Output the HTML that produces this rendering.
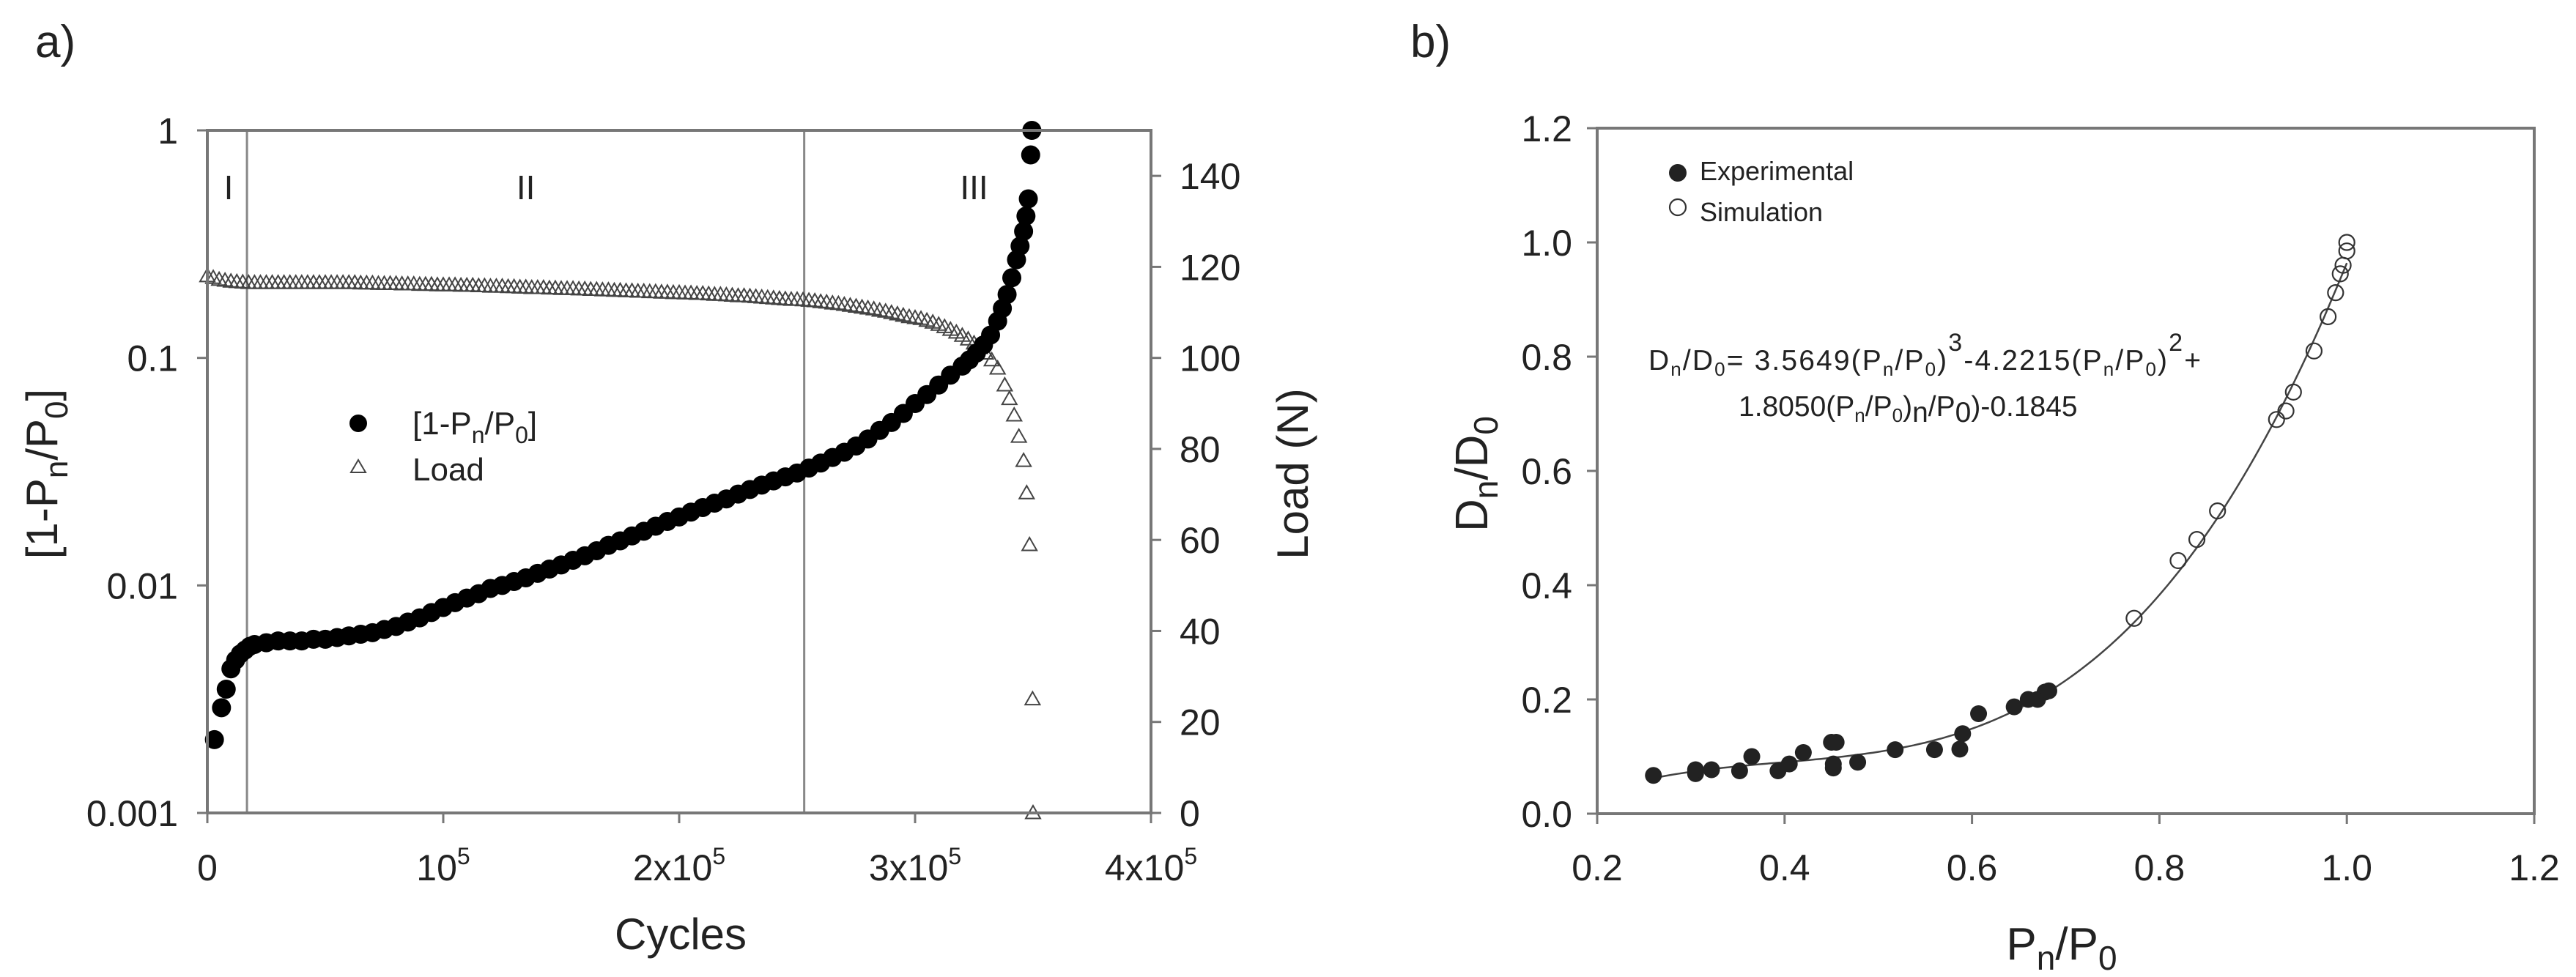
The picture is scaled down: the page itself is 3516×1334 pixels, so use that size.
<!DOCTYPE html>
<html><head><meta charset="utf-8"><style>
html,body{margin:0;padding:0;background:#fff;}
svg text{font-family:"Liberation Sans",sans-serif;fill:#222;}
</style></head><body>
<svg id="chart" width="3516" height="1329" viewBox="0 0 3516 1329" xmlns="http://www.w3.org/2000/svg">
<rect width="3516" height="1329" fill="#fff"/>
<g id="ga"></g>
<g id="gb"></g>
</svg>
<script>
// ---------- Panel a data ----------
const cyclesDamage = [3000,6000,8000,10000,12000,14000,16000,18000,20000,25000,30000,35000,40000,45000,50000,55000,60000,65000,70000,75000,80000,85000,90000,95000,100000,105000,110000,115000,120000,125000,130000,135000,140000,145000,150000,155000,160000,165000,170000,175000,180000,185000,190000,195000,200000,205000,210000,215000,220000,225000,230000,235000,240000,245000,250000,255000,260000,265000,270000,275000,280000,285000,290000,295000,300000,305000,310000,315000,320000,323000,326000,329000,332000,335000,337000,339000,341000,343000,344500,346000,347000,348000,349000,349500];
const damage = [0.0021,0.0029,0.0035,0.0043,0.0047,0.005,0.0052,0.0054,0.0055,0.0056,0.0057,0.0057,0.0057,0.0058,0.0058,0.0059,0.006,0.0061,0.0062,0.0064,0.0066,0.0069,0.0072,0.0076,0.0080,0.0084,0.0088,0.0092,0.0097,0.0100,0.0104,0.0108,0.0113,0.0118,0.0123,0.0129,0.0135,0.0142,0.0150,0.0157,0.0165,0.0173,0.0182,0.0191,0.0200,0.0210,0.0220,0.0230,0.0240,0.0252,0.0264,0.0276,0.0288,0.0300,0.0312,0.0328,0.0345,0.0365,0.0385,0.041,0.044,0.048,0.052,0.057,0.063,0.069,0.076,0.084,0.092,0.098,0.105,0.114,0.126,0.145,0.165,0.19,0.225,0.27,0.31,0.36,0.42,0.5,0.78,1.0];
const loadStep = 2500;
const loadDense = [118,117.6,117.2,117.0,116.8,116.7,116.6,116.5,
116.5,116.5,116.5,116.5,116.5,116.5,116.5,116.5,116.5,116.5,116.5,116.5,116.5,116.5,116.5,116.5,116.5,
116.5,116.4,116.4,116.4,116.3,116.3,116.3,116.3,116.2,116.2,116.2,116.1,116.1,116.1,116.0,116.0,
116.0,116.0,115.9,115.9,115.9,115.8,115.8,115.7,115.7,115.7,115.6,115.6,115.5,115.5,115.4,115.4,115.4,115.3,115.3,115.2,
115.2,115.2,115.1,115.1,115.0,115.0,114.9,114.9,114.8,114.8,114.7,114.7,114.6,114.6,114.5,114.5,114.4,114.4,114.3,114.3,
114.2,114.2,114.1,114.1,114.0,113.9,113.9,113.8,113.7,113.6,113.6,113.5,113.4,113.3,113.2,113.1,113.0,112.9,112.8,112.8,
112.7,112.6,112.5,112.3,112.2,112.0,111.9,111.7,111.5,111.3,111.1,110.9,110.7,110.4,110.2,109.9,109.6,109.3,109.0,108.8,
108.6,108.2,107.8,107.3,106.8,106.2,105.6,104.9,104.1,103.2,102.2,101.0];
const cyclesLoadTail = [332500,335000,338000,340000,342000,344000,346000,347300,348500,349800,350000];
const loadTail = [99.5,97.7,94,91,87.4,82.7,77.4,70.3,58.9,25,0];
const aXTicks = [0,100000,200000,300000,400000];
const aXTickLabels = [["0",""],["10","5"],["2x10","5"],["3x10","5"],["4x10","5"]];
const aYTicks = [0.001,0.01,0.1,1];
const aYTickLabels = ["0.001","0.01","0.1","1"];
const aY2Ticks = [0,20,40,60,80,100,120,140];
const regionLines = [16800,253000];
const regionLabels = [["I",9000],["II",135000],["III",325000]];

// ---------- Panel b data ----------
const expX = [0.26,0.305,0.305,0.322,0.352,0.365,0.393,0.405,0.42,0.45,0.455,0.452,0.452,0.478,0.518,0.56,0.587,0.59,0.607,0.645,0.66,0.67,0.678,0.682];
const expY = [0.067,0.07,0.077,0.077,0.075,0.1,0.075,0.087,0.107,0.125,0.125,0.08,0.087,0.09,0.112,0.112,0.113,0.14,0.175,0.187,0.2,0.2,0.213,0.215];
const simX = [0.773,0.82,0.84,0.862,0.925,0.935,0.943,0.965,0.98,0.988,0.993,0.996,1.0,1.0];
const simY = [0.342,0.443,0.48,0.53,0.69,0.705,0.738,0.81,0.87,0.912,0.945,0.96,0.985,1.0];
const fitCoef = [3.5649,-4.2215,1.805,-0.1845];
const fitRange = [0.26,1.0];
const bXTicks = [0.2,0.4,0.6,0.8,1.0,1.2];
const bYTicks = [0,0.2,0.4,0.6,0.8,1.0,1.2];

const NS="http://www.w3.org/2000/svg";
function mk(parent,tag,attrs,text){const e=document.createElementNS(NS,tag);for(const k in attrs)e.setAttribute(k,attrs[k]);if(text!==undefined)e.textContent=text;parent.appendChild(e);return e;}

// ===== Panel A =====
const ga=document.getElementById('ga');
const A={l:283,r:1571,t:178,b:1110};
const ax=v=>A.l+(v/400000)*(A.r-A.l);
const ay=v=>A.t+(-Math.log10(v))/3*(A.b-A.t);
const ay2=v=>A.b-(v/150)*(A.b-A.t);
let t=mk(ga,'text',{x:48,y:78,'font-size':62},'a)');

regionLines.forEach(c=>{const l=mk(ga,'line',{x1:ax(c),x2:ax(c),y1:A.t,y2:A.b,stroke:'#888','stroke-width':3});
});
regionLabels.forEach(r=>{const e=mk(ga,'text',{x:ax(r[1]),y:272,'font-size':46,'text-anchor':'middle'},r[0]);
});
// load triangles
function tri(c,v){const x=ax(c),y=ay2(v);const s=10;
const p=mk(ga,'polygon',{points:`${x},${y-s} ${x-s},${y+s*0.75} ${x+s},${y+s*0.75}`,fill:'none',stroke:'#444','stroke-width':2});

}
loadDense.forEach((v,i)=>tri(i*loadStep,v));
cyclesLoadTail.forEach((c,i)=>tri(c,loadTail[i]));
// damage circles
cyclesDamage.forEach((c,i)=>{const e=mk(ga,'circle',{cx:ax(c),cy:ay(damage[i]),r:13,fill:'#000'});
});
// axes
const fa=mk(ga,'path',{d:`M${A.l},${A.b}V${A.t}H${A.r}V${A.b}H${A.l}`,fill:'none',stroke:'#777','stroke-width':4});

aXTicks.forEach((v,i)=>{mk(ga,'line',{x1:ax(v),x2:ax(v),y1:A.b,y2:A.b+14,stroke:'#777','stroke-width':3});
const e=mk(ga,'text',{x:ax(v),y:1202,'font-size':50,'text-anchor':'middle'});

mk(e,'tspan',{},aXTickLabels[i][0]);if(aXTickLabels[i][1])mk(e,'tspan',{dy:-22,'font-size':32},aXTickLabels[i][1]);});
aYTicks.forEach((v,i)=>{mk(ga,'line',{x1:A.l-14,x2:A.l,y1:ay(v),y2:ay(v),stroke:'#777','stroke-width':3});
const e=mk(ga,'text',{x:243,y:ay(v)+18,'font-size':50,'text-anchor':'end'},aYTickLabels[i]);
});
aY2Ticks.forEach(v=>{mk(ga,'line',{x1:A.r,x2:A.r+14,y1:ay2(v),y2:ay2(v),stroke:'#777','stroke-width':3});
const e=mk(ga,'text',{x:1610,y:ay2(v)+18,'font-size':50},String(v));
});
// titles
t=mk(ga,'text',{x:929,y:1296,'font-size':60,'text-anchor':'middle'},'Cycles');

t=mk(ga,'text',{transform:'translate(78,647) rotate(-90)','font-size':60,'text-anchor':'middle'});

mk(t,'tspan',{},'[1-P');mk(t,'tspan',{dy:14,'font-size':44},'n');mk(t,'tspan',{dy:-14},'/P');mk(t,'tspan',{dy:14,'font-size':44},'0');mk(t,'tspan',{dy:-14},']');
t=mk(ga,'text',{transform:'translate(1785,647) rotate(-90)','font-size':60,'text-anchor':'middle'},'Load (N)');

// legend
let lg=mk(ga,'g',{});
mk(lg,'circle',{cx:489,cy:578,r:12,fill:'#000'});
t=mk(lg,'text',{x:563,y:593,'font-size':44});mk(t,'tspan',{},'[1-P');mk(t,'tspan',{dy:12,'font-size':32},'n');mk(t,'tspan',{dy:-12},'/P');mk(t,'tspan',{dy:12,'font-size':32},'0');mk(t,'tspan',{dy:-12},']');
mk(lg,'polygon',{points:'489,628 479,645 499,645',fill:'none',stroke:'#444','stroke-width':2});
mk(lg,'text',{x:563,y:656,'font-size':44},'Load');

// ===== Panel B =====
const gb=document.getElementById('gb');
const B={l:2180,r:3459,t:175,b:1111};
const bx=v=>B.l+(v-0.2)/1.0*(B.r-B.l);
const by=v=>B.b-(v/1.2)*(B.b-B.t);
t=mk(gb,'text',{x:1925,y:78,'font-size':62},'b)');

let d='';for(let i=0;i<=120;i++){const x=fitRange[0]+(fitRange[1]-fitRange[0])*i/120;const y=((fitCoef[0]*x+fitCoef[1])*x+fitCoef[2])*x+fitCoef[3];d+=(i?'L':'M')+bx(x).toFixed(1)+','+by(y).toFixed(1);}
t=mk(gb,'path',{d:d,fill:'none',stroke:'#444','stroke-width':2.5});

expX.forEach((x,i)=>{const e=mk(gb,'circle',{cx:bx(x),cy:by(expY[i]),r:11.5,fill:'#222'});
});
simX.forEach((x,i)=>{const e=mk(gb,'circle',{cx:bx(x),cy:by(simY[i]),r:10.5,fill:'none',stroke:'#333','stroke-width':2.2});
});
const fb=mk(gb,'path',{d:`M${B.l},${B.b}V${B.t}H${B.r}V${B.b}H${B.l}`,fill:'none',stroke:'#777','stroke-width':4});

bXTicks.forEach(v=>{mk(gb,'line',{x1:bx(v),x2:bx(v),y1:B.b,y2:B.b+14,stroke:'#777','stroke-width':3});
const e=mk(gb,'text',{x:bx(v),y:1202,'font-size':50,'text-anchor':'middle'},v.toFixed(1));
});
bYTicks.forEach(v=>{mk(gb,'line',{x1:B.l-14,x2:B.l,y1:by(v),y2:by(v),stroke:'#777','stroke-width':3});
const e=mk(gb,'text',{x:2146,y:by(v)+18,'font-size':50,'text-anchor':'end'},v.toFixed(1));
});
t=mk(gb,'text',{x:2814,y:1310,'font-size':62,'text-anchor':'middle'});

mk(t,'tspan',{},'P');mk(t,'tspan',{dy:14,'font-size':46},'n');mk(t,'tspan',{dy:-14},'/P');mk(t,'tspan',{dy:14,'font-size':46},'0');
t=mk(gb,'text',{transform:'translate(2030,647) rotate(-90)','font-size':62,'text-anchor':'middle'});

mk(t,'tspan',{},'D');mk(t,'tspan',{dy:14,'font-size':46},'n');mk(t,'tspan',{dy:-14},'/D');mk(t,'tspan',{dy:14,'font-size':46},'0');
lg=mk(gb,'g',{});
mk(lg,'circle',{cx:2290,cy:236,r:12,fill:'#222'});
mk(lg,'text',{x:2320,y:246,'font-size':36},'Experimental');
mk(lg,'circle',{cx:2290,cy:283,r:11,fill:'none',stroke:'#333','stroke-width':2.2});
mk(lg,'text',{x:2320,y:302,'font-size':36},'Simulation');
const eq=mk(gb,'g',{});
t=mk(eq,'text',{x:2250,y:505,'font-size':39,'textLength':754});
mk(t,'tspan',{},'D');mk(t,'tspan',{dy:8,'font-size':26},'n');mk(t,'tspan',{dy:-8},'/D');mk(t,'tspan',{dy:8,'font-size':26},'0');mk(t,'tspan',{dy:-8},'= 3.5649(P');mk(t,'tspan',{dy:8,'font-size':26},'n');mk(t,'tspan',{dy:-8},'/P');mk(t,'tspan',{dy:8,'font-size':26},'0');mk(t,'tspan',{dy:-8},')');mk(t,'tspan',{dy:-26,'font-size':34},'3');mk(t,'tspan',{dy:26},'-4.2215(P');mk(t,'tspan',{dy:8,'font-size':26},'n');mk(t,'tspan',{dy:-8},'/P');mk(t,'tspan',{dy:8,'font-size':26},'0');mk(t,'tspan',{dy:-8},')');mk(t,'tspan',{dy:-26,'font-size':34},'2');mk(t,'tspan',{dy:26},'+');
t=mk(eq,'text',{x:2373,y:568,'font-size':39});
mk(t,'tspan',{},'1.8050(P');mk(t,'tspan',{dy:8,'font-size':26},'n');mk(t,'tspan',{dy:-8},'/P');mk(t,'tspan',{dy:8,'font-size':26},'0');mk(t,'tspan',{dy:-8},')');mk(t,'tspan',{dy:8},'n');mk(t,'tspan',{dy:-8},'/P');mk(t,'tspan',{dy:8},'0');mk(t,'tspan',{dy:-8},')-0.1845');
</script>
</body></html>
